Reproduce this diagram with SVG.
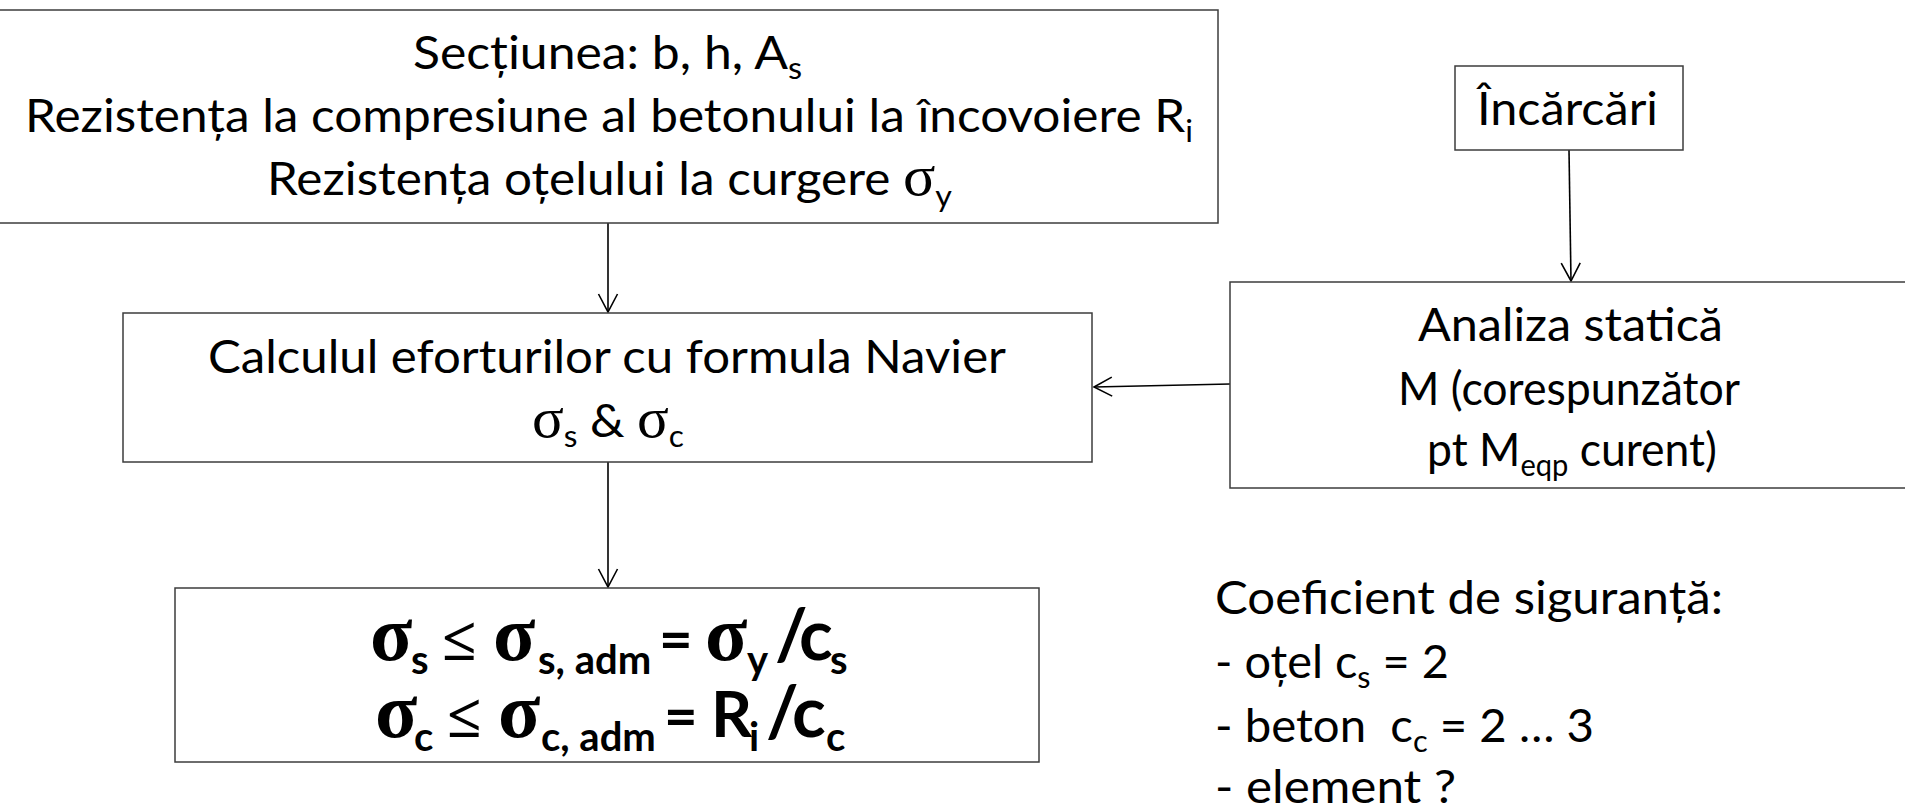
<svg xmlns="http://www.w3.org/2000/svg" width="1905" height="808" viewBox="0 0 1905 808">
<style>
.box{fill:#fff;stroke:#3c3c3c;stroke-width:1.5}
.t{font-family:Lato,"Open Sans",sans-serif;font-size:46px;fill:#000}
.g{font-family:"Liberation Serif","DejaVu Serif",serif;font-size:56px}
.sub{font-size:30px}
.fb{font-family:Lato,"Open Sans",sans-serif;font-weight:bold;font-size:70px;fill:#000}
.gs{font-family:"Liberation Serif","DejaVu Serif",serif;font-weight:bold;font-size:78px}
.le{font-family:"Liberation Serif","DejaVu Serif",serif;font-weight:bold;font-size:62px}
.eq{font-size:58px}
.fs{font-size:40px}
.conn{stroke:#000;stroke-width:1.6;fill:none;marker-end:url(#arr)}
</style>
<defs>
<marker id="arr" markerUnits="userSpaceOnUse" markerWidth="22" markerHeight="22" viewBox="0 0 22 22" refX="20" refY="11" orient="auto">
<path d="M2,1.5 L20,11 L2,20.5" fill="none" stroke="#000" stroke-width="1.6"/>
</marker>
</defs>

<g id="connectors">
<line class="conn" x1="608" y1="223" x2="608" y2="312"/>
<line class="conn" x1="608" y1="462" x2="608" y2="587"/>
<line class="conn" x1="1569" y1="150" x2="1571" y2="281"/>
<line class="conn" x1="1230" y1="384" x2="1094" y2="387"/>
</g>

<g id="node-sectiune">
<rect class="box" x="-1" y="10" width="1219" height="213"/>
<text class="t" x="413" y="69" textLength="389" lengthAdjust="spacingAndGlyphs">Secțiunea: b, h, A<tspan class="sub" dy="10">s</tspan></text>
<text class="t" x="25" y="132" textLength="1168" lengthAdjust="spacingAndGlyphs">Rezistența la compresiune al betonului la încovoiere R<tspan class="sub" dy="10">i</tspan></text>
<text class="t" x="267" y="195" textLength="685" lengthAdjust="spacingAndGlyphs">Rezistența oțelului la curgere <tspan class="g">σ</tspan><tspan class="sub" dy="12">y</tspan></text>
</g>

<g id="node-incarcari">
<rect class="box" x="1455" y="66" width="228" height="84"/>
<text class="t" x="1477" y="125" textLength="181" lengthAdjust="spacingAndGlyphs">Încărcări</text>
</g>

<g id="node-calcul">
<rect class="box" x="123" y="313" width="969" height="149"/>
<text class="t" x="208" y="373" textLength="798" lengthAdjust="spacingAndGlyphs">Calculul eforturilor cu formula Navier</text>
<text class="t" x="532" y="437" textLength="152" lengthAdjust="spacingAndGlyphs"><tspan class="g">σ</tspan><tspan class="sub" dy="10">s</tspan><tspan dy="-10"> &amp; </tspan><tspan class="g">σ</tspan><tspan class="sub" dy="10">c</tspan></text>
</g>

<g id="node-analiza">
<rect class="box" x="1230" y="282" width="690" height="206"/>
<text class="t" x="1418" y="341" textLength="305" lengthAdjust="spacingAndGlyphs">Analiza statică</text>
<text class="t" x="1398" y="405" textLength="342" lengthAdjust="spacingAndGlyphs">M (corespunzător</text>
<text class="t" x="1427" y="466" textLength="290" lengthAdjust="spacingAndGlyphs">pt M<tspan class="sub" dy="10">eqp</tspan><tspan dy="-10"> curent)</tspan></text>
</g>

<g id="node-verificare">
<rect class="box" x="175" y="588" width="864" height="174"/>
<text class="fb" y="660"><tspan class="gs" x="370">σ</tspan><tspan class="fs" x="411" dy="14">s</tspan><tspan class="le" x="442" dy="-14">≤</tspan><tspan class="gs" x="493">σ</tspan><tspan class="fs" x="538" dy="14">s, adm</tspan><tspan class="eq" x="659" dy="-14">=</tspan><tspan class="gs" x="705">σ</tspan><tspan class="fs" x="747" dy="14">y</tspan><tspan x="775" dy="-14">/</tspan><tspan x="799">c</tspan><tspan class="fs" x="830" dy="14">s</tspan></text>
<text class="fb" y="737"><tspan class="gs" x="375">σ</tspan><tspan class="fs" x="414" dy="14">c</tspan><tspan class="le" x="447" dy="-14">≤</tspan><tspan class="gs" x="498">σ</tspan><tspan class="fs" x="541" dy="14">c, adm</tspan><tspan class="eq" x="664" dy="-14">=</tspan><tspan style="font-size:64px" x="711">R</tspan><tspan class="fs" x="749" dy="14">i</tspan><tspan x="766" dy="-14">/</tspan><tspan x="792">c</tspan><tspan class="fs" x="826" dy="14">c</tspan></text>
</g>

<g id="note-coeficient">
<text class="t" x="1215" y="614" textLength="508" lengthAdjust="spacingAndGlyphs">Coeficient de siguranță:</text>
<text class="t" x="1215" y="678" textLength="234" lengthAdjust="spacingAndGlyphs">- oțel c<tspan class="sub" dy="10">s</tspan><tspan dy="-10"> = 2</tspan></text>
<text class="t" x="1215" y="742" textLength="379" lengthAdjust="spacingAndGlyphs" xml:space="preserve">- beton  c<tspan class="sub" dy="10">c</tspan><tspan dy="-10"> = 2 … 3</tspan></text>
<text class="t" x="1215" y="803" textLength="241" lengthAdjust="spacingAndGlyphs">- element ?</text>
</g>
</svg>
